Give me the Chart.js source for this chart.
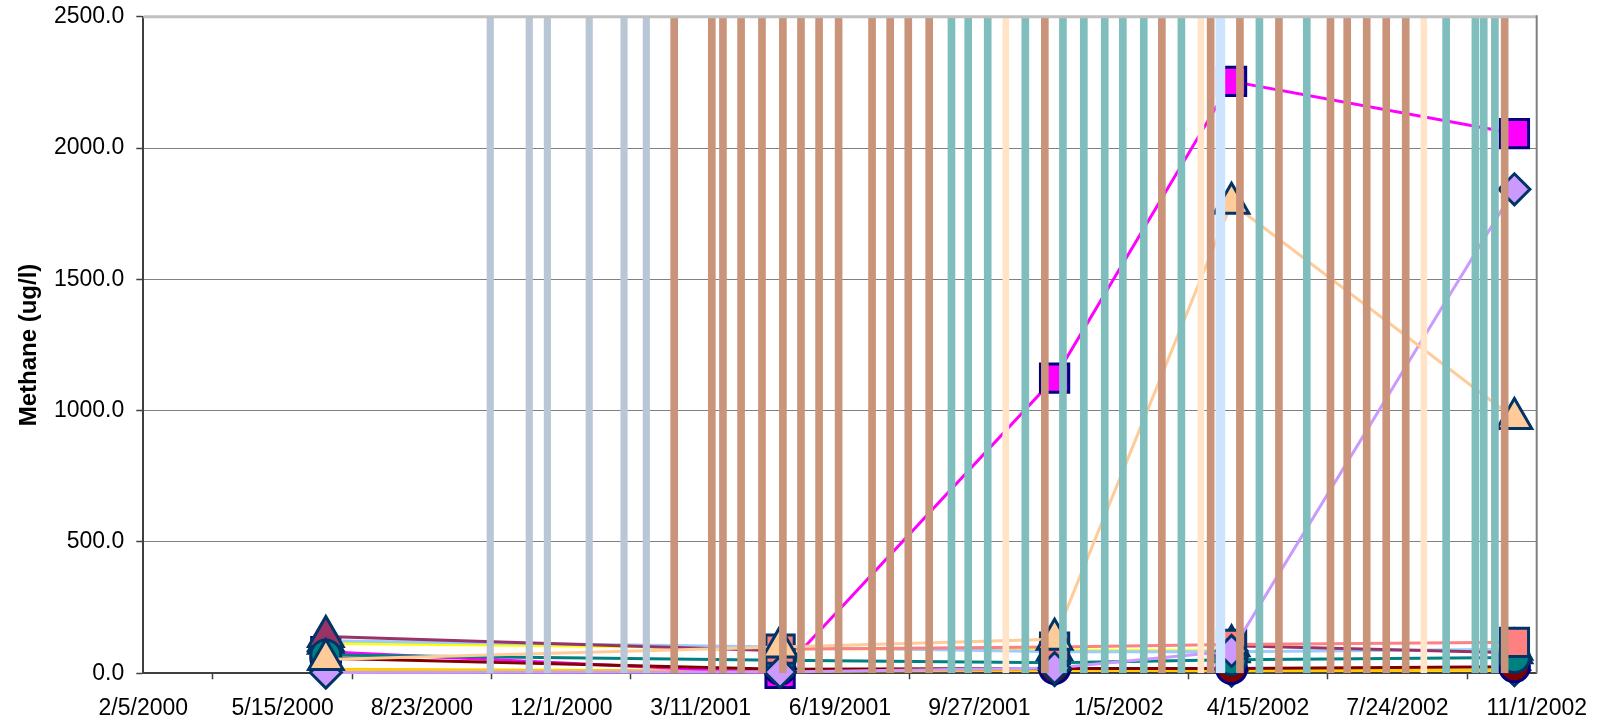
<!DOCTYPE html>
<html>
<head>
<meta charset="utf-8">
<script src="https://cdn.jsdelivr.net/npm/chart.js@4.4.1/dist/chart.umd.min.js"></script>
<style>
  html, body { margin: 0; padding: 0; background: #ffffff; }
  #wrap { width: 1602px; height: 725px; }
</style>
</head>
<body>
<div id="wrap"><canvas id="c" width="1602" height="725"></canvas></div>
<script>
// ---------- DATA ----------
const baseDate = '2000-02-05';
const xTickLabels = ['2/5/2000','5/15/2000','8/23/2000','12/1/2000','3/11/2001','6/19/2001','9/27/2001','1/5/2002','4/15/2002','7/24/2002','11/1/2002'];
const yTickLabels = ['0.0','500.0','1000.0','1500.0','2000.0','2500.0'];

// sampling dates of the methane series
const sampleDates = ['2000-06-15','2001-05-07','2001-11-20','2002-03-27','2002-10-16'];

// methane (ug/l) per series, one value per sampling date
const goldDiam    = [15, 8, 12, 10, 12];
const magentaSq   = [82, 0, 1124, 2254, 2055];
const maroonCirc  = [57, 15, 18, 18, 25];
const yellowTri   = [114, 95, 88, 86, null];
const lightBlueTri= [124, 100, 82, 82, 92];
const plumTri     = [140, 86, null, 105, 78];
const tealCirc    = [70, 50, 40, 52, 60];
const salmonSq    = [null, 92, 100, 110, 118];
const lavenderDia = [3, 5, 20, 85, 1843];
const peachTri    = [53, 100, 130, 1790, 970];

// event dates shown as full-height vertical bars
const eventTop = 2500;
const blueGrayDates = ['2000-10-11','2000-11-08','2000-11-21','2000-12-21','2001-01-15','2001-01-31'];
const brownDates = ['2001-02-20','2001-03-19','2001-03-27','2001-04-09','2001-04-24','2001-05-09','2001-05-22','2001-06-04','2001-06-18','2001-07-12','2001-07-25','2001-08-07','2001-08-22','2001-11-13','2002-02-05','2002-03-12','2002-04-02','2002-04-30','2002-06-06','2002-06-18','2002-07-02','2002-07-16','2002-07-30','2002-10-09'];
const tealDates = ['2001-09-07','2001-09-19','2001-10-03','2001-10-30','2001-11-26','2001-12-11','2001-12-26','2002-01-08','2002-01-23','2002-02-19','2002-04-16','2002-05-20','2002-08-28','2002-09-18','2002-09-24','2002-10-02'];
const peachDates = ['2001-10-16','2002-03-05','2002-08-12'];
const lightBlueDates = ['2002-03-19'];

// ---------- helpers ----------
function utc(s){ const p = s.split('-').map(Number); return Date.UTC(p[0], p[1]-1, p[2]); }
const BASE = utc(baseDate);
function day(s){ return (utc(s) - BASE) / 86400000; }
const sx = sampleDates.map(day);
function pts(vals){ return vals.map((v,i) => ({x: sx[i], y: v})); }
function bars(dates){ return dates.map(d => ({x: day(d), y: eventTop})); }

const NAVY = '#000080', DARK = '#003366';
function lineDs(label, vals, color, style, radius, border, order){
  return {
    type: 'line', label, data: pts(vals), borderColor: color, borderWidth: 3,
    pointStyle: style, pointRadius: radius, pointHoverRadius: radius,
    pointBackgroundColor: color, pointBorderColor: border, pointBorderWidth: 3,
    tension: 0, spanGaps: false, fill: false, clip: false, order
  };
}
function barDs(label, dates, color, thick){
  return { type: 'bar', label, data: bars(dates), backgroundColor: color, borderWidth: 0,
           barThickness: thick, grouped: false, order: 0 };
}

// higher order = drawn earlier (further back)
const datasets = [
  barDs('b1', blueGrayDates, '#B8C6D6', 6.5),
  barDs('b2', brownDates, '#C99479', 7),
  barDs('b3', tealDates, '#80BDBD', 7),
  barDs('b4', peachDates, '#FFE4C8', 6),
  barDs('b5', lightBlueDates, '#CCE4FF', 9),
  lineDs('s1', goldDiam, '#FFCC00', 'rectRot', 15.5, DARK, 20),
  lineDs('s2', magentaSq, '#FF00FF', 'rect', 20, NAVY, 19),
  lineDs('s3', maroonCirc, '#800000', 'circle', 15, NAVY, 18),
  lineDs('s4', yellowTri, '#FFFF00', 'triangle', 20, DARK, 17),
  lineDs('s5', lightBlueTri, '#99CCFF', 'triangle', 20, DARK, 16),
  lineDs('s6', plumTri, '#993366', 'triangle', 20, DARK, 15),
  lineDs('s7', tealCirc, '#008080', 'circle', 15, DARK, 14),
  lineDs('s8', salmonSq, '#FF8080', 'rect', 20, DARK, 13),
  lineDs('s9', lavenderDia, '#CC99FF', 'rectRot', 15.5, DARK, 12),
  lineDs('s10', peachTri, '#FFCC99', 'triangle', 20, DARK, 11)
];

const frame = {
  id: 'frame',
  afterDatasetsDraw(chart){
    const {ctx, chartArea: a} = chart;
    ctx.save();
    ctx.strokeStyle = '#C0C0C0'; ctx.lineWidth = 3;
    ctx.beginPath(); ctx.moveTo(a.left, a.top); ctx.lineTo(a.right, a.top); ctx.stroke();
    ctx.strokeStyle = '#808080'; ctx.lineWidth = 2;
    ctx.beginPath(); ctx.moveTo(a.right, a.top - 1.5); ctx.lineTo(a.right, a.bottom); ctx.stroke();
    ctx.restore();
  }
};

const FONT = "'Liberation Sans', Arial, sans-serif";
new Chart(document.getElementById('c'), {
  type: 'line',
  data: { datasets },
  plugins: [frame],
  options: {
    responsive: false, animation: false, devicePixelRatio: 1,
    layout: { autoPadding: false, padding: { left: 0, top: 16.7, right: 65.3, bottom: 0 } },
    plugins: { legend: { display: false }, tooltip: { enabled: false } },
    scales: {
      x: {
        type: 'linear', min: 0, max: 1000, offset: false,
        afterFit: s => { s.height = 51.7; s.paddingLeft = 0; s.paddingRight = 0; },
        ticks: { stepSize: 100, autoSkip: false, maxRotation: 0, color: '#000', padding: 16,
                 font: { family: FONT, size: 23 },
                 callback: (v, i) => xTickLabels[i] },
        grid: { drawOnChartArea: false, drawTicks: true, tickLength: 6, tickColor: '#404040', tickWidth: 1.5 },
        border: { color: '#404040', width: 2 }
      },
      y: {
        min: 0, max: 2500,
        afterFit: s => { s.width = 143.3; s.paddingTop = 0; s.paddingBottom = 0; },
        ticks: { stepSize: 500, color: '#000', padding: 12,
                 font: { family: FONT, size: 23 },
                 callback: (v, i) => yTickLabels[i] },
        grid: {
          color: c => (c.tick && c.tick.value === 0) ? 'rgba(0,0,0,0)' : '#808080',
          lineWidth: 1, tickLength: 7, tickColor: '#404040', tickWidth: 1.5
        },
        border: { color: '#404040', width: 2 },
        title: { display: true, text: 'Methane (ug/l)', color: '#000',
                 font: { family: FONT, size: 24, weight: 'bold' }, padding: { top: 15, bottom: 0 } }
      }
    }
  }
});
</script>
</body>
</html>
